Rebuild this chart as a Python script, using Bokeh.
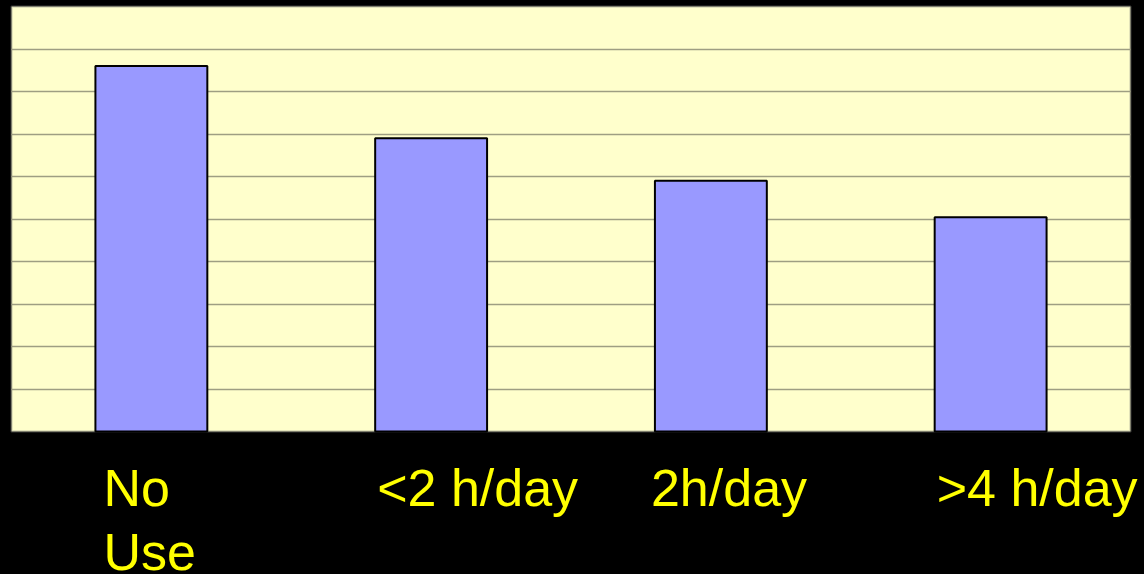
from bokeh.plotting import figure
from bokeh.models import Range1d, SingleIntervalTicker, BoxAnnotation, ColumnDataSource
from bokeh.core.properties import value
from bokeh.embed import file_html
from bokeh.resources import INLINE

# ---- data ----
categories = ["No\nUse", "<2 h/day", "2h/day", ">4 h/day"]
values = [8.6, 6.9, 5.9, 5.04]
label_nudge = [8, 2, -4, 2]  # small horizontal nudges of the category labels (px)

y_max = 10
n = len(categories)
bar_width = 0.4
x_pos = [i + 0.5 for i in range(n)]
bar_left = [x - bar_width / 2 for x in x_pos]

# layout in pixels: plot panel 1119 x 425, label space below, small margins
panel_w, panel_h = 1119, 425
pad_l, pad_r, pad_t, pad_b = 2, 14, 2, 143
px_x = panel_w / n
px_y = panel_h / y_max

p = figure(width=1144, height=574, output_backend="svg", toolbar_location=None,
           x_range=Range1d(-pad_l / px_x, n + pad_r / px_x),
           y_range=Range1d(-pad_b / px_y, y_max + pad_t / px_y),
           x_axis_location=None, y_axis_location=None,
           min_border_left=9, min_border_right=0, min_border_top=4, min_border_bottom=0)

p.background_fill_color = "#000000"
p.border_fill_color = "#000000"
p.outline_line_color = None

# yellow plot panel
p.add_layout(BoxAnnotation(left=0, right=n, bottom=0, top=y_max, fill_color="#FFFFCC",
                           fill_alpha=1, line_color="#808080", line_width=2.5,
                           level="image"))

p.xgrid.visible = False
p.ygrid.ticker = SingleIntervalTicker(interval=1)
p.ygrid.bounds = (1, y_max - 1)
p.ygrid.cross_bounds = (0, n)
p.ygrid.grid_line_color = "#9e9e82"
p.ygrid.grid_line_width = 1.5

p.vbar(x=x_pos, top=values, width=bar_width, fill_color="#9999FF",
       line_color="#000000", line_width=2)

src = ColumnDataSource(dict(x=bar_left, y=[0] * n, text=categories, dx=label_nudge))
p.text(x="x", y="y", text="text", source=src, x_offset="dx", y_offset=27,
       text_color="#FFFF00", text_font=value("Liberation Sans"), text_font_size="52px",
       text_align="left", text_baseline="top", text_line_height=1.12)

html = file_html(p, INLINE)
html = html.replace("</head>",
                    "<style>html,body{margin:0;padding:0;overflow:hidden;background-color:#000000;}</style></head>", 1)
open("out.html", "w").write(html)
